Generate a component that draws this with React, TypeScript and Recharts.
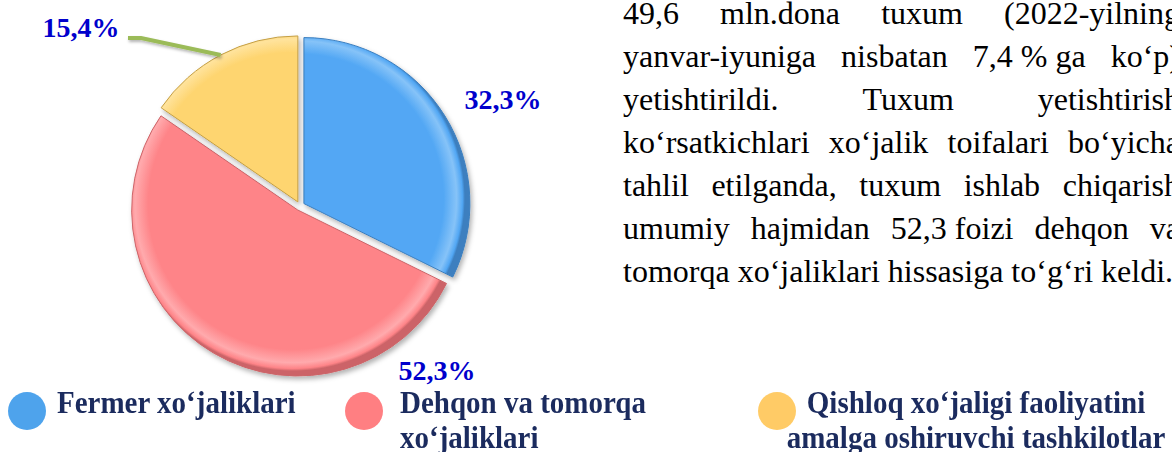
import { PieChart, Pie, Cell, Legend, Sector } from 'recharts';

const categories = [
  'Fermer xo‘jaliklari',
  'Dehqon va tomorqa xo‘jaliklari',
  'Qishloq xo‘jaligi faoliyatini amalga oshiruvchi tashkilotlar',
];
const shares = [32.3, 52.3, 15.4];

const paragraphLines = [
  ['49,6', 'mln.dona', 'tuxum', '(2022-yilning'],
  ['yanvar-iyuniga', 'nisbatan', '7,4 % ga', 'ko‘p)'],
  ['yetishtirildi.', 'Tuxum', 'yetishtirish'],
  ['ko‘rsatkichlari', 'xo‘jalik', 'toifalari', 'bo‘yicha'],
  ['tahlil', 'etilganda,', 'tuxum', 'ishlab', 'chiqarish'],
  ['umumiy', 'hajmidan', '52,3 foizi', 'dehqon', 'va'],
  ['tomorqa', 'xo‘jaliklari', 'hissasiga', 'to‘g‘ri', 'keldi.'],
];

const pieData = categories.map((name, i) => ({ name, value: shares[i] }));

const sliceBase = ['#52a7f4', '#fe8488', '#fed570'];
const sliceLight = ['#86c3f8', '#ffaaad', '#ffe39c'];
const sliceEdge = ['#3c7fbf', '#cc6468', '#c49f45'];
const legendColors = ['#4ea3ec', '#ff7f82', '#ffcb66'];

const CX = 295;
const CY = 201;
const R = 166;
const EXPLODE = 4.6;
const RAD = Math.PI / 180;

// label anchor (text centre x, baseline y) relative to pie centre
const labelSpots = [
  { dx: 203, dy: -97 },
  { dx: 137, dy: 174 },
  { dx: -219, dy: -169 },
];

const legendSpots = [
  { circle: 27, textLeft: 57, width: 300, align: 'left' as const },
  { circle: 364, textLeft: 400, width: 262, align: 'left' as const },
  { circle: 777, textLeft: 776, width: 400, align: 'center' as const },
];

const serif = '"Liberation Serif", "Times New Roman", serif';

function ExplodedSlice(props: any) {
  const { midAngle } = props;
  const dx = EXPLODE * Math.cos(-midAngle * RAD);
  const dy = EXPLODE * Math.sin(-midAngle * RAD);
  return (
    <g transform={`translate(${dx},${dy})`} filter="url(#sliceShadow)">
      <Sector {...props} />
    </g>
  );
}

function renderLabel(props: any) {
  const { cx, cy, index, value, midAngle, outerRadius } = props;
  const spot = labelSpots[index];
  const x = cx + spot.dx;
  const y = cy + spot.dy;
  const text = `${Number(value).toFixed(1).replace('.', ',')}%`;
  let leader = null;
  if (index === 2) {
    const rr = outerRadius + EXPLODE;
    const ex = cx + rr * Math.cos(-midAngle * RAD);
    const ey = cy + rr * Math.sin(-midAngle * RAD);
    leader = (
      <polyline
        points={`${x + 47},${y + 1} ${x + 60},${y + 1} ${ex},${ey}`}
        fill="none"
        stroke="#9bbb59"
        strokeWidth={4}
        filter="url(#lineShadow)"
      />
    );
  }
  return (
    <g>
      {leader}
      <text x={x} y={y} textAnchor="middle" fill="#0000cc" fontFamily={serif} fontWeight="bold" fontSize={28}>
        {text}
      </text>
    </g>
  );
}

function LegendContent(props: any) {
  const items = [...(props.payload || [])].sort(
    (a: any, b: any) => categories.indexOf(a.value) - categories.indexOf(b.value),
  );
  return (
    <div style={{ position: 'relative', width: 1172, height: 64 }}>
      {items.map((item: any, i: number) => (
        <div key={i}>
          <div
            style={{
              position: 'absolute',
              left: legendSpots[i].circle - 19,
              top: 4,
              width: 38,
              height: 38,
              borderRadius: '50%',
              background: legendColors[i],
            }}
          />
          <div
            style={{
              position: 'absolute',
              left: legendSpots[i].textLeft,
              top: -3,
              width: legendSpots[i].width,
              textAlign: legendSpots[i].align,
              fontFamily: serif,
              fontWeight: 'bold',
              fontSize: 29,
              lineHeight: '31px',
              color: '#1b2b5e',
              transform: 'scaleY(1.12)',
              transformOrigin: 'top left',
            }}
          >
            {item.value}
          </div>
        </div>
      ))}
    </div>
  );
}

export default function App() {
  return (
    <div
      style={{
        position: 'absolute',
        left: 0,
        top: 0,
        width: 1172,
        height: 452,
        overflow: 'hidden',
        background: '#ffffff',
      }}
    >
      <PieChart width={1172} height={452} style={{ position: 'absolute', left: 0, top: 0 }}>
        <defs>
          {sliceBase.map((c, i) => (
            <radialGradient key={i} id={`grad${i}`} gradientUnits="userSpaceOnUse" cx={CX} cy={CY} r={R}>
              <stop offset="0%" stopColor={c} />
              <stop offset="87%" stopColor={c} />
              <stop offset="95%" stopColor={sliceLight[i]} />
              <stop offset="98.5%" stopColor={c} />
              <stop offset="100%" stopColor={sliceEdge[i]} />
            </radialGradient>
          ))}
          <filter id="sliceShadow" x="-20%" y="-20%" width="140%" height="140%">
            <feDropShadow dx="2" dy="3" stdDeviation="2.5" floodColor="#000" floodOpacity="0.3" />
          </filter>
          <filter id="lineShadow" x="-20%" y="-50%" width="140%" height="200%">
            <feDropShadow dx="1" dy="2" stdDeviation="1.5" floodColor="#000" floodOpacity="0.3" />
          </filter>
        </defs>
        <Pie
          data={pieData}
          dataKey="value"
          nameKey="name"
          cx={CX}
          cy={CY}
          outerRadius={R}
          startAngle={90}
          endAngle={-270}
          isAnimationActive={false}
          label={renderLabel}
          labelLine={false}
          shape={ExplodedSlice}
        >
          {pieData.map((_, i) => (
            <Cell key={i} fill={`url(#grad${i})`} stroke={sliceEdge[i]} strokeWidth={1} />
          ))}
        </Pie>
        <Legend
          content={<LegendContent />}
          wrapperStyle={{ position: 'absolute', left: 0, top: 388, width: 1172, height: 64 }}
        />
      </PieChart>
      <div
        style={{
          position: 'absolute',
          left: 623,
          top: -8,
          width: 557,
          fontFamily: serif,
          fontSize: 32,
          lineHeight: '43px',
          color: '#000',
        }}
      >
        {paragraphLines.map((words, i) => {
          const last = i === paragraphLines.length - 1;
          return (
            <div
              key={i}
              style={{
                display: 'flex',
                justifyContent: last ? 'flex-start' : 'space-between',
                gap: last ? 8 : 0,
                whiteSpace: 'nowrap',
              }}
            >
              {words.map((w, j) => (
                <span key={j}>{w}</span>
              ))}
            </div>
          );
        })}
      </div>
    </div>
  );
}
